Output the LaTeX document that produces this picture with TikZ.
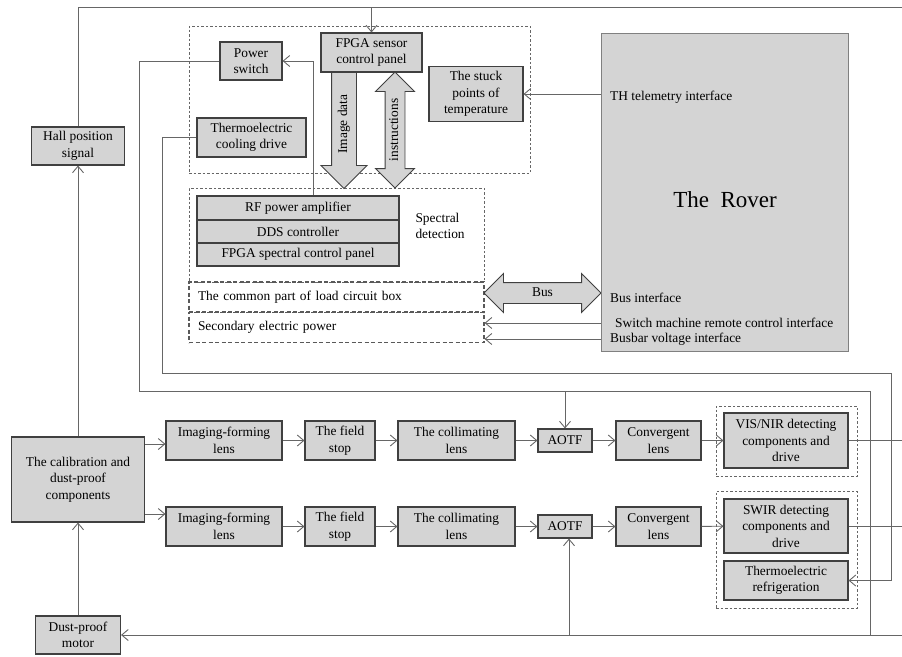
\documentclass[tikz,border=0pt]{standalone}
\usepackage{fontspec}
\setmainfont{Liberation Serif}
\usetikzlibrary{arrows.meta,shapes.arrows}

\begin{document}
\begin{tikzpicture}[x=1pt, y=-1pt, >={Straight Barb[length=6.5pt,width=11pt]},
	font=\fontsize{13.4pt}{16.5pt}\selectfont,
	khoi/.style={draw=black!75, fill=black!17, line width=1.1pt, inner sep=1pt, align=center},
	nhom/.style={draw=black!60, dash pattern=on 2.5pt off 2pt, line width=0.8pt, inner sep=0pt},
	vung/.style={draw=black!65, dash pattern=on 4pt off 2.5pt, line width=1.2pt, inner xsep=9pt, inner ysep=0pt, align=left, text width=277pt, minimum height=30pt},
	day/.style={draw=black!60, line width=0.9pt},
	muiten/.style={draw=black!75, fill=black!17, line width=0.9pt, inner xsep=2pt, text height=9pt, text depth=3pt}]
	\useasboundingbox (0,0) rectangle (902,656);
	
	% Khung net dut
	\node[nhom, minimum width=341pt, minimum height=147pt] (topgrp) at (359.5,99.5) {};
	\node[nhom, minimum width=295pt, minimum height=94pt] (specgrp) at (336.5,235) {};
	\node[vung] (common) at (336.5,297) {The common part of load circuit box};
	\node[vung] (secpow) at (336.5,327.5) {Secondary electric power};
	\node[nhom, minimum width=141pt, minimum height=70pt] (visgrp) at (786.5,441) {};
	\node[nhom, minimum width=141pt, minimum height=117pt] (swirgrp) at (786.5,549.5) {};
	
	% Khoi phia tren
	\node[khoi, minimum width=93pt, minimum height=38pt] (hall) at (78,146) {Hall position\\signal};
	\node[khoi, minimum width=62pt, minimum height=38pt] (pwr) at (251,61) {Power\\switch};
	\node[khoi, minimum width=101pt, minimum height=39pt] (fpgas) at (371.5,52.5) {FPGA sensor\\control panel};
	\node[khoi, minimum width=94pt, minimum height=55pt] (stuck) at (476,94) {The stuck\\points of\\temperature};
	\node[khoi, minimum width=109pt, minimum height=39pt] (tcd) at (251.5,137.5) {Thermoelectric\\cooling drive};
	\node[khoi, minimum width=202pt, minimum height=24pt] (rf) at (298,208) {RF power amplifier};
	\node[khoi, minimum width=202pt, minimum height=23pt] (dds) at (298,231.5) {DDS controller};
	\node[khoi, minimum width=202pt, minimum height=23pt] (fpgasp) at (298,254.5) {FPGA spectral control panel};
	\node[anchor=west, align=left] (spdet) at (412,226) {Spectral\\detection};
	
	% Mui ten lon
	\node[muiten, single arrow, rotate=90, shape border rotate=180, minimum height=116pt,
	single arrow head extend=10.5pt, inner ysep=6pt, anchor=tail] (imgdata) at (344,72) {Image data};
	\node[muiten, double arrow, rotate=90, minimum height=116pt,
	double arrow head extend=9.5pt, inner ysep=3.5pt] (instr) at (395,130) {instructions};
	\node[muiten, double arrow, minimum height=117pt,
	double arrow head extend=9pt, inner ysep=4pt] (bus) at (542.5,293) {Bus};
	
	% Xe
	\node[khoi, draw=black!50, line width=0.8pt, minimum width=247pt, minimum height=318pt] (rover) at (724.5,192) {};
	\node[font=\fontsize{23pt}{27pt}\selectfont] (rovername) at (725,200) {The\ \ Rover};
	\node[anchor=west, inner sep=0pt] (thif) at (610,97) {TH telemetry interface};
	\node[anchor=west, inner sep=0pt] (busif) at (610,298) {Bus interface};
	\node[anchor=west, inner sep=0pt] (swif) at (615,323) {Switch machine remote control interface};
	\node[anchor=west, inner sep=0pt] (bbif) at (610,339) {Busbar voltage interface};
	
	% Duong quang hoc
	\node[khoi, minimum width=133pt, minimum height=85pt] (cal) at (78,479.5) {The calibration and\\dust-proof\\components};
	\node[khoi, minimum width=85pt, minimum height=38pt] (motor) at (78,635) {Dust-proof\\motor};
	\foreach \r/\y in {1/440.5, 2/526.5} {
		\node[khoi, minimum width=116pt, minimum height=39pt] (img\r) at (224,\y) {Imaging-forming\\lens};
		\node[khoi, minimum width=70pt, minimum height=39pt] (stop\r) at (340,\y) {The field\\stop};
		\node[khoi, minimum width=117pt, minimum height=39pt] (col\r) at (456.5,\y) {The collimating\\lens};
		\node[khoi, minimum width=54pt, minimum height=23pt] (aotf\r) at (565,\y) {AOTF};
		\node[khoi, minimum width=85pt, minimum height=39pt] (conv\r) at (658.5,\y) {Convergent\\lens};
	}
	\node[khoi, minimum width=124pt, minimum height=55pt] (vis) at (786,440.5) {VIS/NIR detecting\\components and\\drive};
	\node[khoi, minimum width=124pt, minimum height=54pt] (swir) at (786,526) {SWIR detecting\\components and\\drive};
	\node[khoi, minimum width=124pt, minimum height=39pt] (tref) at (786,580.5) {Thermoelectric\\refrigeration};
	
	% Duong noi
	\coordinate (tr) at (902,7);
	\coordinate (br) at (902,635);
	\coordinate (p1) at (139,391);
	\coordinate (p2) at (870,635);
	\coordinate (q1) at (162,373);
	\coordinate (q2) at (891,580.5);
	\draw[day] (hall.north) |- (tr);
	\draw[day,->] (fpgas.north |- tr) -- (fpgas.north);
	\draw[day,->] (cal.north) -- (hall.south);
	\draw[day,->] (motor.north) -- (cal.south);
	\draw[day,->] (br) -- (motor.east);
	\draw[day,->] ([xshift=4pt]aotf2.south |- br) -- ([xshift=4pt]aotf2.south);
	\draw[day] (pwr.west) -| (p1) -| (p2);
	\draw[day,->] (aotf1.north |- p1) -- (aotf1.north);
	\draw[day,->] (tcd.west) -| (q1) -| (q2) -- (tref.east);
	\draw[day,->] ([xshift=15pt]rf.north) |- (pwr.east);
	\draw[day,->] (rover.west |- stuck.east) -- (stuck.east);
	\draw[day,->] (rover.west |- swif.west) -- (secpow.east |- swif.west);
	\draw[day,->] (rover.west |- bbif.west) -- (secpow.east |- bbif.west);
	\draw[day,->] ([yshift=35.5pt]cal.east) -- ([yshift=35.5pt]cal.east -| img1.west);
	\draw[day,->] ([yshift=-34.5pt]cal.east) -- ([yshift=-34.5pt]cal.east -| img2.west);
	\foreach \r in {1,2} {
		\draw[day,->] (img\r) -- (stop\r);
		\draw[day,->] (stop\r) -- (col\r);
		\draw[day,->] (col\r) -- (aotf\r);
		\draw[day,->] (aotf\r) -- (conv\r);
	}
	\draw[day,->] (conv1) -- (vis);
	\draw[day,->] (conv2) -- (swir);
	\draw[day] (vis.east) -- (vis.east -| tr);
	\draw[day] (swir.east) -- (swir.east -| tr);
\end{tikzpicture}
\end{document}
